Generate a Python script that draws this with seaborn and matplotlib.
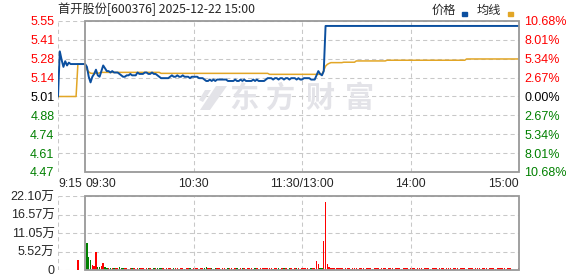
import numpy as np
import pandas as pd
import matplotlib
matplotlib.use("Agg")
import matplotlib.pyplot as plt
import matplotlib.transforms as mtransforms
from matplotlib.patches import Rectangle, Polygon
import seaborn as sns

# ---------------- data ----------------
title = "首开股份[600376] 2025-12-22 15:00"
prev_close = 5.01
pct_levels = [10.68, 8.01, 5.34, 2.67, 0.0, -2.67, -5.34, -8.01, -10.68]
price_tick_labels = ["5.55", "5.41", "5.28", "5.14", "5.01", "4.88", "4.74", "4.61", "4.47"]
pct_tick_labels = ["10.68%", "8.01%", "5.34%", "2.67%", "0.00%", "2.67%", "5.34%", "8.01%", "10.68%"]
vol_tick_values = [0, 5.52, 11.05, 16.57, 22.10]
vol_tick_labels = ["0", "5.52万", "11.05万", "16.57万", "22.10万"]
time_ticks = [0, 15, 75, 135, 195, 255]
time_labels = ["9:15", "09:30", "10:30", "11:30/13:00", "14:00", "15:00"]
legend_labels = ["价格", "均线"]
watermark_chars = ["东", "方", "财", "富"]

# minute-by-minute last price, 9:15 .. 15:00
price = [
    # 9:15 - 9:29 (call auction)
    5.01, 5.33, 5.27, 5.22, 5.26, 5.23, 5.25, 5.24, 5.24, 5.24,
    5.24, 5.24, 5.24, 5.24, 5.24,
    # 9:30 - 11:30
    5.24, 5.22, 5.15, 5.11, 5.15, 5.17, 5.20, 5.16, 5.15, 5.19,
    5.23, 5.21, 5.19, 5.19, 5.18, 5.19, 5.18, 5.18, 5.18, 5.17,
    5.16, 5.15, 5.15, 5.16, 5.16, 5.17, 5.16, 5.16, 5.16, 5.18,
    5.17, 5.17, 5.17, 5.18, 5.18, 5.17, 5.17, 5.18, 5.17, 5.17,
    5.16, 5.15, 5.14, 5.14, 5.14, 5.14, 5.14, 5.15, 5.16, 5.15,
    5.15, 5.16, 5.15, 5.15, 5.16, 5.15, 5.15, 5.15, 5.14, 5.15,
    5.15, 5.15, 5.15, 5.14, 5.14, 5.14, 5.13, 5.12, 5.12, 5.13,
    5.12, 5.13, 5.12, 5.13, 5.13, 5.13, 5.13, 5.13, 5.13, 5.12,
    5.12, 5.12, 5.12, 5.13, 5.12, 5.12, 5.13, 5.12, 5.13, 5.12,
    5.12, 5.12, 5.12, 5.13, 5.12, 5.13, 5.12, 5.12, 5.12, 5.12,
    5.13, 5.14, 5.14, 5.14, 5.13, 5.14, 5.14, 5.13, 5.14, 5.14,
    5.13, 5.14, 5.14, 5.13, 5.14, 5.14, 5.14, 5.13, 5.14, 5.13,
    5.13,
    # 13:01 - 15:00
    5.14, 5.14, 5.14, 5.14, 5.13, 5.13, 5.13, 5.16, 5.19, 5.17,
    5.16, 5.19,
    5.51, 5.51, 5.51, 5.51, 5.51, 5.51, 5.51, 5.51, 5.51, 5.51, 5.51, 5.51,
    5.51, 5.51, 5.51, 5.51, 5.51, 5.51, 5.51, 5.51, 5.51, 5.51, 5.51, 5.51,
    5.51, 5.51, 5.51, 5.51, 5.51, 5.51, 5.51, 5.51, 5.51, 5.51, 5.51, 5.51,
    5.51, 5.51, 5.51, 5.51, 5.51, 5.51, 5.51, 5.51, 5.51, 5.51, 5.51, 5.51,
    5.51, 5.51, 5.51, 5.51, 5.51, 5.51, 5.51, 5.51, 5.51, 5.51, 5.51, 5.51,
    5.51, 5.51, 5.51, 5.51, 5.51, 5.51, 5.51, 5.51, 5.51, 5.51, 5.51, 5.51,
    5.51, 5.51, 5.51, 5.51, 5.51, 5.51, 5.51, 5.51, 5.51, 5.51, 5.51, 5.51,
    5.51, 5.51, 5.51, 5.51, 5.51, 5.51, 5.51, 5.51, 5.51, 5.51, 5.51, 5.51,
    5.51, 5.51, 5.51, 5.51, 5.51, 5.51, 5.51, 5.51, 5.51, 5.51, 5.51, 5.51,
]

# minute-by-minute average price
avg_price = [
    5.01, 5.01, 5.01, 5.01, 5.01, 5.01, 5.01, 5.01, 5.01, 5.01,
    5.01, 5.24, 5.24, 5.24, 5.24, 5.24,
    5.200, 5.185, 5.175, 5.174, 5.174, 5.174, 5.174, 5.178,
    5.181, 5.181, 5.181, 5.181, 5.181, 5.181, 5.181, 5.181, 5.181, 5.181, 5.181,
    5.181, 5.181, 5.181, 5.181, 5.181, 5.181, 5.181, 5.181, 5.181, 5.181, 5.181,
    5.181, 5.181, 5.181, 5.181, 5.181, 5.181, 5.181, 5.181, 5.181, 5.181, 5.181,
    5.174, 5.174, 5.174, 5.174, 5.174, 5.174, 5.174, 5.174, 5.174, 5.174,
    5.174, 5.174, 5.174, 5.174, 5.174, 5.174, 5.174, 5.174, 5.174, 5.174,
    5.174, 5.174, 5.174, 5.174, 5.174, 5.174, 5.174, 5.174, 5.174, 5.174,
    5.174, 5.174, 5.174, 5.174, 5.174, 5.174, 5.174, 5.174, 5.174, 5.174,
    5.174, 5.174, 5.174, 5.174, 5.174, 5.174, 5.174, 5.174, 5.174, 5.174,
    5.174, 5.174, 5.174, 5.174, 5.174, 5.174, 5.174, 5.174, 5.174, 5.174,
    5.167, 5.167, 5.167, 5.167, 5.167, 5.167, 5.167, 5.167, 5.167, 5.167,
    5.167, 5.167, 5.167, 5.167, 5.167, 5.167, 5.167, 5.167, 5.167, 5.167,
    5.167, 5.167, 5.167, 5.167, 5.167, 5.167, 5.167, 5.167, 5.167, 5.167,
    5.195, 5.225, 5.238, 5.245,
    5.250, 5.250, 5.250, 5.250, 5.250, 5.250, 5.250,
    5.253, 5.253, 5.253, 5.253, 5.253, 5.253, 5.253,
    5.262, 5.262, 5.262, 5.262, 5.262, 5.262, 5.262, 5.262, 5.262,
    5.262, 5.262, 5.262, 5.262, 5.262, 5.262, 5.262, 5.262,
    5.267, 5.267, 5.267, 5.267, 5.267, 5.267, 5.267, 5.267, 5.267, 5.267, 5.267,
    5.267, 5.267, 5.267, 5.267, 5.267, 5.267, 5.267, 5.267, 5.267, 5.267, 5.267,
    5.267, 5.267, 5.267, 5.267, 5.267, 5.267, 5.267, 5.267, 5.267, 5.267, 5.267,
    5.267, 5.267, 5.267, 5.267, 5.267, 5.267, 5.267, 5.267, 5.267, 5.267, 5.267,
    5.276, 5.276, 5.276, 5.276, 5.276, 5.276, 5.276, 5.276, 5.276, 5.276,
    5.276, 5.276, 5.276, 5.276, 5.276, 5.276, 5.276, 5.276, 5.276, 5.276,
    5.276, 5.276, 5.276, 5.276, 5.276, 5.276, 5.276, 5.276, 5.276, 5.276,
]

# minute volume (万手)
volume = [
    0, 0, 0, 0, 0, 0, 0, 0, 0, 0,
    0, 3.0, 0, 0, 0,
    0, 8.15, 4.0, 3.0, 1.5, 1.3, 5.5, 0.9, 0.9, 1.3,
    2.2, 1.0, 0.7, 0.7, 0.6, 0.5, 0.6, 0.5, 0.5, 1.0,
    0.5, 0.5, 0.45, 0.5, 0.4, 0.5, 0.45, 0.5, 0.4, 0.5,
    0.5, 0.45, 0.5, 0.4, 0.5, 0.45, 0.5, 0.4, 0.5, 0.45,
    0.5, 0.5, 0.5, 0.45, 0.4, 0.5, 0.45, 0.5, 0.4, 0.5,
    0.45, 0.5, 0.4, 0.45, 0.5, 0.4, 0.5, 0.45, 0.5, 0.4,
    0.5, 0.45, 0.5, 0.4, 0.5, 0.45, 0.5, 0.8, 0.5, 0.45,
    0.5, 0.4, 0.5, 0.45, 0.5, 0.4, 0.5, 0.45, 0.4, 0.5,
    0.45, 0.5, 0.4, 0.45, 0.5, 0.4, 0.5, 0.45, 0.5, 0.4,
    0.5, 0.45, 0.5, 0.4, 0.5, 0.45, 0.4, 0.5, 0.45, 0.5,
    0.5, 0.5, 0.45, 0.5, 0.4, 0.5, 0.45, 0.5, 0.4, 0.5,
    0.45, 0.5, 0.4, 0.45, 0.5, 0.4, 0.5, 0.45, 0.5, 0.4,
    0.5,
    0.5, 0.45, 0.5, 0.4, 0.5, 0.5, 0.5, 2.8, 1.8, 0.7,
    0.5, 8.75, 20.4, 1.8, 0.9, 0.5, 0.5, 0.45, 0.5, 0.5,
    0.45, 0.5, 0.4, 0.5, 0.45, 0.5, 0.4, 0.5, 0.45, 0.5,
    0.4, 0.5, 0.45, 0.5, 0.4, 0.5, 0.45, 0.5, 0.4, 0.5,
    0.45, 0.5, 0.4, 0.5, 0.45, 0.5, 0.4, 0.5, 0.45, 0.5,
    0.4, 0.5, 0.45, 0.5, 0.4, 0.5, 0.45, 0.5, 0.4, 0.5,
    0.45, 0.5, 0.4, 0.5, 0.45, 0.5, 0.4, 0.5, 0.45, 0.5,
    0.4, 0.5, 0.45, 0.5, 0.4, 0.5, 0.45, 0.5, 0.4, 0.5,
    0.45, 0.5, 0.4, 0.5, 0.45, 0.5, 0.4, 0.5, 0.45, 0.5,
    0.4, 0.5, 0.45, 0.5, 0.4, 0.5, 0.45, 0.5, 0.4, 0.5,
    0.45, 0.5, 0.4, 0.5, 0.45, 0.5, 0.4, 0.5, 0.45, 0.5,
    0.45, 0.5, 0.4, 0.5, 0.45,
    0.0, 0.0, 0.0, 0.0,
    0.6,
]

assert len(price) == len(avg_price) == len(volume) == 256

# ---------------- styling ----------------
sns.set_style("white")
plt.rcParams["font.family"] = ["Liberation Sans", "Noto Sans CJK SC", "DejaVu Sans"]

RED = "#ff0000"
GREEN = "#008000"
BLUE = "#0b4f9f"
GOLD = "#e2a626"
GRID = "#c8c8c8"
FRAME = "#999999"
WM = "#e3e3e8"

W, H = 578, 276
n = len(price)
minute = np.arange(n)
direction = ["up"] + ["up" if price[i] >= price[i - 1] else "down" for i in range(1, n)]
df = pd.DataFrame({"minute": minute, "price": price, "avg": avg_price,
                   "volume": volume, "dir": direction})
palette = {"up": RED, "down": GREEN}

fig = plt.figure(figsize=(W / 100, H / 100), dpi=100)
fig.patch.set_facecolor("white")


def box(x0, y0, x1, y1):
    return [x0 / W, 1 - y1 / H, (x1 - x0) / W, (y1 - y0) / H]


def fx(x):
    return x / W


def fy(y):
    return 1 - y / H


ax = fig.add_axes(box(58, 21, 519, 172))
axv = fig.add_axes(box(58, 196, 519, 270))

price_ticks = [prev_close * (1 + p / 100) for p in pct_levels]
ylo, yhi = price_ticks[-1], price_ticks[0]

dash = (0, (4, 3))
for a in (ax, axv):
    for s in a.spines.values():
        s.set_visible(False)
    a.set_xlim(0, 255)
    a.set_facecolor("none")
    for m in (0, 75, 135, 195):
        a.axvline(m, color=GRID, lw=0.75, ls=dash, zorder=0)

for y in price_ticks:
    ax.axhline(y, color=GRID, lw=0.75, ls=dash, zorder=0)
for y in vol_tick_values:
    axv.axhline(y, color=GRID, lw=0.75, ls=dash, zorder=0)

# watermark (logo + text)
logo1 = Polygon([(fx(216), fy(86)), (fx(227), fy(86)), (fx(210), fy(110)), (fx(200), fy(110))],
                closed=True, transform=fig.transFigure, color=WM, zorder=0, lw=0)
logo2 = Polygon([(fx(205), fy(90)), (fx(211), fy(90)), (fx(203), fy(102)), (fx(199), fy(100))],
                closed=True, transform=fig.transFigure, color=WM, zorder=0, lw=0)
fig.patches.extend([logo1, logo2])
for ch, cx in zip(watermark_chars, [244, 281, 320, 359]):
    fig.text(fx(cx), fy(98), ch, fontsize=21, fontweight="bold", color=WM,
             ha="center", va="center", family=["Noto Sans CJK SC"], zorder=0)

# lines
sns.lineplot(data=df, x="minute", y="avg", ax=ax, color=GOLD, lw=1.1,
             estimator=None, zorder=3)
sns.lineplot(data=df, x="minute", y="price", ax=ax, color=BLUE, lw=1.4,
             estimator=None, zorder=4)
ax.set_ylim(ylo, yhi)
ax.set_xlim(0, 255)

# volume bars
axv.bar(df["minute"], df["volume"], width=0.8,
        color=[palette[d] for d in df["dir"]], linewidth=0, zorder=3,
        antialiased=False)
axv.set_xlim(0, 255)
axv.set_ylim(0, 22.10)

# frames
for a in (ax, axv):
    tr = mtransforms.blended_transform_factory(a.transData, a.transAxes)
    a.add_patch(Rectangle((15, 0), 240, 1, transform=tr, fill=False,
                          ec=FRAME, lw=1.3, clip_on=False, zorder=5))

# ticks - price axis
ax.set_xlabel("")
ax.set_ylabel("")
ax.set_yticks(price_ticks)
ax.set_yticklabels(price_tick_labels)
ax.tick_params(axis="y", length=0, pad=2.5, labelsize=9)
for lbl, p in zip(ax.get_yticklabels(), pct_levels):
    lbl.set_color(RED if p > 0 else (GREEN if p < 0 else "black"))

ax.set_xticks(time_ticks)
ax.set_xticklabels(time_labels)
ax.tick_params(axis="x", length=0, pad=4, labelsize=8.7)
for lbl, ha in zip(ax.get_xticklabels(), ["left", "left", "center", "center", "center", "right"]):
    lbl.set_ha(ha)

axr = ax.twinx()
for s in axr.spines.values():
    s.set_visible(False)
axr.set_ylim(ylo, yhi)
axr.set_yticks(price_ticks)
axr.set_yticklabels(pct_tick_labels)
axr.tick_params(axis="y", length=0, pad=4, labelsize=9)
for lbl, p in zip(axr.get_yticklabels(), pct_levels):
    lbl.set_color(RED if p > 0 else (GREEN if p < 0 else "black"))

# ticks - volume axis
axv.set_xlabel("")
axv.set_ylabel("")
axv.set_xticks([])
axv.set_yticks(vol_tick_values)
axv.set_yticklabels(vol_tick_labels)
axv.tick_params(axis="y", length=0, pad=2.5, labelsize=9)

# title and legend
fig.text(fx(58), fy(9), title, fontsize=8.8, ha="left", va="center",
         family=["Noto Sans CJK SC"])
fig.text(fx(432), fy(10), legend_labels[0], fontsize=8.8, ha="left", va="center",
         family=["Noto Sans CJK SC"])
fig.text(fx(477), fy(10), legend_labels[1], fontsize=8.8, ha="left", va="center",
         family=["Noto Sans CJK SC"])
fig.patches.append(Rectangle((fx(462), fy(15.5)), 4.5 / W, 3 / H,
                             transform=fig.transFigure, color=BLUE))
fig.patches.append(Rectangle((fx(508), fy(15.5)), 4.5 / W, 3 / H,
                             transform=fig.transFigure, color=GOLD))

fig.savefig("out.png", dpi=100, facecolor="white")
